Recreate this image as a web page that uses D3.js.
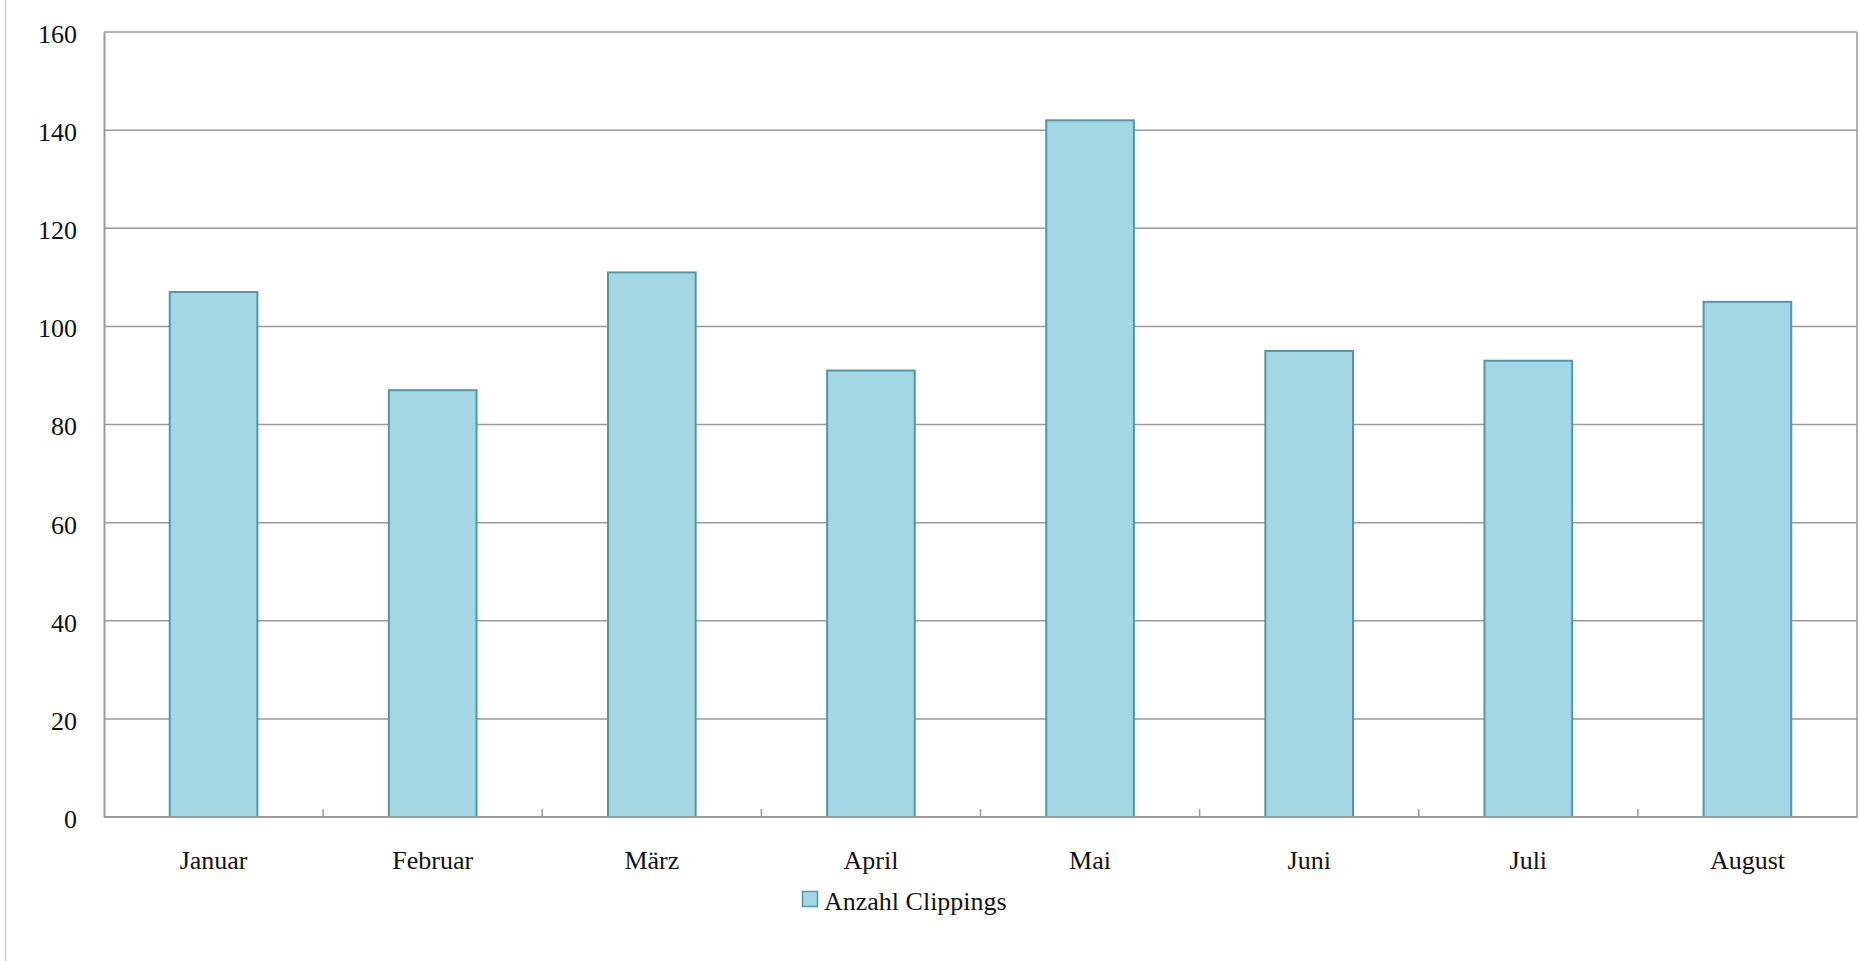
<!DOCTYPE html>
<html>
<head>
<meta charset="utf-8">
<script src="https://cdn.jsdelivr.net/npm/d3@7"></script>
<style>
  body { margin: 0; background: #fff; }
  text { font-family: "Liberation Serif", "DejaVu Serif", serif; fill: #111; }
</style>
</head>
<body>
<div id="chart"></div>
<script>
const months = ["Januar", "Februar", "März", "April", "Mai", "Juni", "Juli", "August"];
const clippings = [107, 87, 111, 91, 142, 95, 93, 105];
const yTicks = [0, 20, 40, 60, 80, 100, 120, 140, 160];
const seriesName = "Anzahl Clippings";

const svgWidth = 1859,
      svgHeight = 961,
      margin = {top: 32, right: 2, bottom: 144, left: 104},
      width = svgWidth - margin.left - margin.right,
      height = svgHeight - margin.top - margin.bottom;

const barFill = "#a3d7e3", barStroke = "#4f98aa", gridColor = "#9a9a9a";
const fontSize = "26px";

let scaleY = d3.scaleLinear().domain([0, 160]).range([height, 0]),
    scaleX = d3.scaleBand().domain(months).range([0, width]).paddingInner(0.6).paddingOuter(0.3);

let svg = d3.select("#chart")
  .append("svg")
  .attr("width", svgWidth)
  .attr("height", svgHeight);

// page frame line on the left
svg.append("line")
  .attr("x1", 5.5).attr("x2", 5.5)
  .attr("y1", 0).attr("y2", svgHeight)
  .attr("stroke", "#c8c8c8")
  .attr("stroke-width", 1.5);

let g = svg.append("g")
  .attr("transform", "translate(" + margin.left + "," + margin.top + ")");

// gridlines
g.append("g")
  .selectAll("line")
  .data(yTicks.slice(1))
  .enter()
  .append("line")
  .attr("x1", 0).attr("x2", width)
  .attr("y1", d => scaleY(d)).attr("y2", d => scaleY(d))
  .attr("stroke", gridColor)
  .attr("stroke-width", 1.5);

// right border
g.append("line")
  .attr("x1", width).attr("x2", width)
  .attr("y1", 0).attr("y2", height)
  .attr("stroke", gridColor)
  .attr("stroke-width", 1.5);

// y axis labels
let yAxis = g.append("g")
  .call(d3.axisLeft(scaleY).tickValues(yTicks).tickSize(0).tickPadding(27));
yAxis.select(".domain").attr("stroke", gridColor).attr("stroke-width", 2);
yAxis.selectAll("text").style("font-size", fontSize).attr("fill", "#111")
  .attr("dy", "0.4em")
  .style("font-family", "'Liberation Serif', serif");

// bars
g.append("g")
  .selectAll("rect")
  .data(clippings)
  .enter()
  .append("rect")
  .attr("x", (d, i) => scaleX(months[i]))
  .attr("y", d => scaleY(d))
  .attr("width", scaleX.bandwidth())
  .attr("height", d => height - scaleY(d))
  .attr("fill", barFill)
  .attr("stroke", barStroke)
  .attr("stroke-width", 2);

// x axis: baseline with small inner ticks between categories
let step = scaleX.step();
let xAxis = g.append("g")
  .attr("transform", "translate(0," + height + ")");
xAxis.append("line")
  .attr("x1", 0).attr("x2", width)
  .attr("stroke", gridColor)
  .attr("stroke-width", 2);
xAxis.selectAll("line.sep")
  .data(months.slice(1))
  .enter()
  .append("line")
  .attr("class", "sep")
  .attr("x1", (d, i) => step * (i + 1)).attr("x2", (d, i) => step * (i + 1))
  .attr("y1", 0).attr("y2", -8)
  .attr("stroke", gridColor)
  .attr("stroke-width", 1.5);
xAxis.selectAll("text")
  .data(months)
  .enter()
  .append("text")
  .attr("x", d => scaleX(d) + scaleX.bandwidth() / 2)
  .attr("y", 52)
  .attr("text-anchor", "middle")
  .style("font-size", fontSize)
  .text(d => d);

// legend
let legend = svg.append("g")
  .attr("transform", "translate(802,891)");
legend.append("rect")
  .attr("x", 0.5).attr("y", 0.5)
  .attr("width", 15).attr("height", 15)
  .attr("fill", barFill)
  .attr("stroke", barStroke)
  .attr("stroke-width", 1.5);
legend.append("text")
  .attr("x", 22)
  .attr("y", 19)
  .style("font-size", fontSize)
  .text(seriesName);
</script>
</body>
</html>
